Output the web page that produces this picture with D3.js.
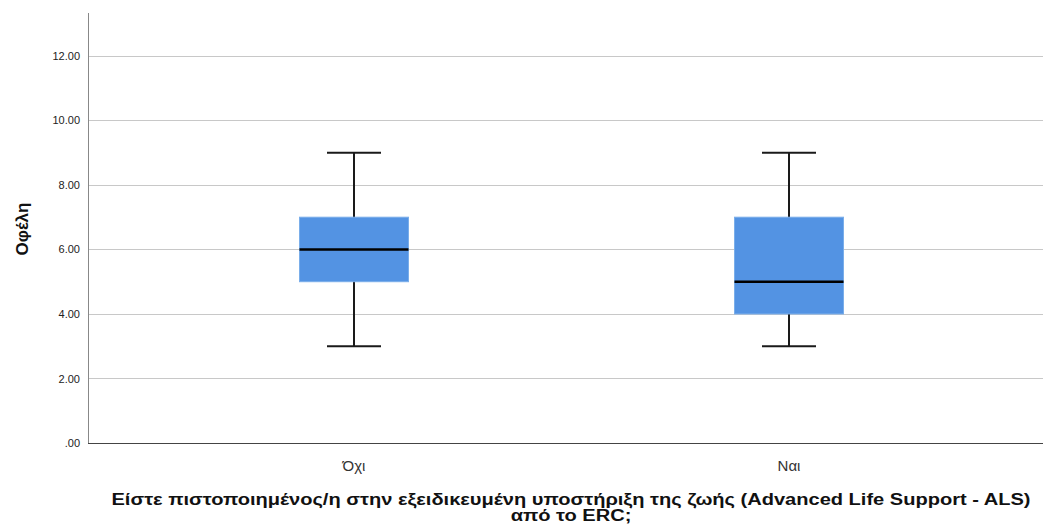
<!DOCTYPE html>
<html>
<head>
<meta charset="utf-8">
<script src="https://cdn.jsdelivr.net/npm/d3@7"></script>
<style>
  body { margin: 0; background: #fff; }
  text { font-family: Arial, "Liberation Sans", sans-serif; }
</style>
</head>
<body>
<div id="chart"></div>
<script>
const categories = ['Όχι', 'Ναι'];
const whiskerLow = [3, 3];
const q1 = [5, 4];
const medians = [6, 5];
const q3 = [7, 7];
const whiskerHigh = [9, 9];
const yTicks = [0, 2, 4, 6, 8, 10, 12];
const xTitle = ['Είστε πιστοποιημένος/η στην εξειδικευμένη υποστήριξη της ζωής (Advanced Life Support - ALS)', 'από το ERC;'];
const yTitle = 'Οφέλη';

const width = 1043;
const height = 526;
const plot = { left: 88, right: 1043, top: 13, bottom: 443 };

const boxes = categories.map((c, i) => ({
  cat: c, lo: whiskerLow[i], q1: q1[i], med: medians[i], q3: q3[i], hi: whiskerHigh[i],
}));

const svg = d3.select('#chart').append('svg')
  .attr('width', width)
  .attr('height', height);

const yScale = d3.scaleLinear()
  .domain([0, 13.33])
  .range([plot.bottom, plot.top]);

const xScale = d3.scaleBand()
  .domain(categories)
  .range([136.5, 1006.5]);

// gridlines
svg.selectAll('.grid')
  .data(yTicks.filter(t => t > 0))
  .enter()
  .append('line')
  .attr('x1', plot.left)
  .attr('x2', plot.right)
  .attr('y1', d => Math.round(yScale(d)) + 0.5)
  .attr('y2', d => Math.round(yScale(d)) + 0.5)
  .attr('stroke', '#c8c8c8')
  .attr('stroke-width', 1);

// y axis
const yAxis = svg.append('g')
  .attr('transform', `translate(${plot.left},0)`)
  .call(d3.axisLeft(yScale).tickValues(yTicks).tickSize(0).tickPadding(8)
    .tickFormat(d => d === 0 ? '.00' : d3.format('.2f')(d)));
yAxis.select('.domain').remove();
yAxis.selectAll('text')
  .attr('font-size', 11)
  .attr('fill', '#222');

svg.append('line')
  .attr('x1', plot.left + 0.5)
  .attr('x2', plot.left + 0.5)
  .attr('y1', plot.top)
  .attr('y2', plot.bottom)
  .attr('stroke', '#888')
  .attr('stroke-width', 1);

svg.append('line')
  .attr('x1', plot.left)
  .attr('x2', plot.right)
  .attr('y1', plot.bottom + 0.5)
  .attr('y2', plot.bottom + 0.5)
  .attr('stroke', '#444')
  .attr('stroke-width', 1);

// boxes
const boxW = 109;
const capW = 54;
const g = svg.selectAll('.box')
  .data(boxes)
  .enter()
  .append('g')
  .attr('transform', d => `translate(${xScale(d.cat) + xScale.bandwidth() / 2},0)`);

g.append('line')
  .attr('x1', 0).attr('x2', 0)
  .attr('y1', d => yScale(d.hi))
  .attr('y2', d => yScale(d.lo))
  .attr('stroke', '#1a1a1a')
  .attr('stroke-width', 2);

g.append('rect')
  .attr('x', -boxW / 2)
  .attr('width', boxW)
  .attr('y', d => yScale(d.q3))
  .attr('height', d => yScale(d.q1) - yScale(d.q3))
  .attr('fill', '#5393e3')
  .attr('stroke', '#7aaeea')
  .attr('stroke-width', 1);

g.append('line')
  .attr('x1', -boxW / 2).attr('x2', boxW / 2)
  .attr('y1', d => yScale(d.med))
  .attr('y2', d => yScale(d.med))
  .attr('stroke', '#000')
  .attr('stroke-width', 2.5);

['hi', 'lo'].forEach(k => {
  g.append('line')
    .attr('x1', -capW / 2).attr('x2', capW / 2)
    .attr('y1', d => yScale(d[k]))
    .attr('y2', d => yScale(d[k]))
    .attr('stroke', '#1a1a1a')
    .attr('stroke-width', 2);
});

// x category labels
svg.selectAll('.xlab')
  .data(categories)
  .enter()
  .append('text')
  .attr('x', d => xScale(d) + xScale.bandwidth() / 2)
  .attr('y', 471)
  .attr('text-anchor', 'middle')
  .attr('font-size', 15)
  .attr('fill', '#333')
  .text(d => d);

// axis titles; the reference font runs wider, so stretch to its measured width
const titles = svg.selectAll('.xtitle')
  .data(xTitle)
  .enter()
  .append('text')
  .attr('x', 571)
  .attr('y', (d, i) => 505 + i * 16)
  .attr('text-anchor', 'middle')
  .attr('font-size', 16)
  .attr('font-weight', 'bold')
  .attr('fill', '#111')
  .text(d => d);

const stretch = 919 / titles.nodes()[0].getComputedTextLength();
titles.each(function () {
  d3.select(this)
    .attr('textLength', this.getComputedTextLength() * stretch)
    .attr('lengthAdjust', 'spacingAndGlyphs');
});

svg.append('text')
  .attr('transform', 'translate(28,229) rotate(-90)')
  .attr('text-anchor', 'middle')
  .attr('font-size', 17)
  .attr('font-weight', 'bold')
  .attr('fill', '#111')
  .text(yTitle);
</script>
</body>
</html>
